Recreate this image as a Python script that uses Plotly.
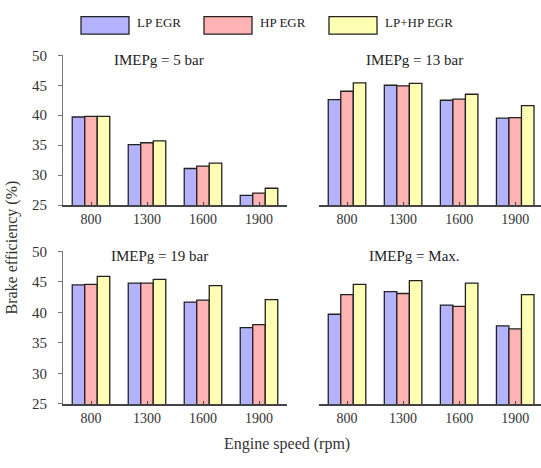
import plotly.graph_objects as go

# Engine speeds (rpm) on the category axis
speeds = ["800", "1300", "1600", "1900"]
series = ["LP EGR", "HP EGR", "LP+HP EGR"]
colors = ["#b3b3ff", "#ffb3b3", "#ffffb3"]

# Brake efficiency (%) for each load case: LP EGR, HP EGR, LP+HP EGR
imep5_lp = [39.7, 35.1, 31.1, 26.6]
imep5_hp = [39.8, 35.4, 31.5, 27.0]
imep5_lphp = [39.8, 35.7, 32.0, 27.8]

imep13_lp = [42.6, 45.0, 42.5, 39.5]
imep13_hp = [44.0, 44.9, 42.7, 39.6]
imep13_lphp = [45.4, 45.3, 43.5, 41.6]

imep19_lp = [44.5, 44.8, 41.7, 37.5]
imep19_hp = [44.6, 44.8, 42.0, 38.0]
imep19_lphp = [45.9, 45.4, 44.4, 42.1]

imepmax_lp = [39.7, 43.4, 41.2, 37.8]
imepmax_hp = [42.9, 43.1, 41.0, 37.3]
imepmax_lphp = [44.6, 45.2, 44.8, 42.9]

panel_titles = ["IMEPg = 5 bar", "IMEPg = 13 bar", "IMEPg = 19 bar", "IMEPg = Max."]
panel_data = [
    [imep5_lp, imep5_hp, imep5_lphp],
    [imep13_lp, imep13_hp, imep13_lphp],
    [imep19_lp, imep19_hp, imep19_lphp],
    [imepmax_lp, imepmax_hp, imepmax_lphp],
]

W, H = 541, 468
FONT = "Liberation Serif"

# Panel boxes in pixels: (left, right, top, bottom)
boxes = [
    (63, 287, 49, 204),
    (319, 541, 49, 204),
    (63, 287, 252, 410),
    (319, 541, 252, 410),
]

fig = go.Figure()
layout = dict(
    width=W, height=H,
    margin=dict(l=0, r=0, t=0, b=0),
    paper_bgcolor="white", plot_bgcolor="white",
    barmode="group", bargap=0.33, bargroupgap=0.0,
    showlegend=False,
    font=dict(family=FONT, size=14, color="#333"),
)

annotations = []
shapes = []

for i, (vals, title, box) in enumerate(zip(panel_data, panel_titles, boxes)):
    n = i + 1
    xa = "x" if n == 1 else f"x{n}"
    ya = "y" if n == 1 else f"y{n}"
    for s, c, v in zip(series, colors, vals):
        fig.add_trace(go.Bar(
            x=speeds, y=v, name=s, xaxis=xa, yaxis=ya,
            marker=dict(color=c, line=dict(color="#222", width=1.3)),
            base=0,
        ))
    l, r, t, b = box
    left_col = n in (1, 3)
    layout["xaxis" if n == 1 else f"xaxis{n}"] = dict(
        domain=[l / W, r / W], anchor=ya,
        range=[-0.5, 3.5] if left_col else [-0.5, 3.46],
        showline=True, linecolor="#444", linewidth=2,
        ticks="inside", ticklen=3, tickcolor="#444",
        showgrid=False, zeroline=False,
        tickfont=dict(family=FONT, size=14, color="#333"),
    )
    layout["yaxis" if n == 1 else f"yaxis{n}"] = dict(
        domain=[1 - b / H, 1 - t / H], anchor=xa,
        range=[25, 50],
        tickvals=[25, 30, 35, 40, 45, 50],
        showgrid=False, zeroline=False,
        showline=left_col, linecolor="#777", linewidth=1,
        ticks="outside" if left_col else "", ticklen=4, tickcolor="#777",
        showticklabels=left_col,
        ticklabelstandoff=8,
        tickfont=dict(family=FONT, size=15, color="#333"),
    )
    annotations.append(dict(
        text=title, xref="paper", yref="paper",
        x=((l + r) / 2 - 16) / W, y=1 - (t + 5) / H,
        xanchor="center", yanchor="middle", showarrow=False,
        font=dict(family=FONT, size=15, color="#222"),
    ))

# Axis titles
annotations.append(dict(
    text="Engine speed (rpm)", xref="paper", yref="paper",
    x=287 / W, y=1 - 451 / H, xanchor="center", yanchor="middle",
    showarrow=False, font=dict(family=FONT, size=16, color="#333"),
))
annotations.append(dict(
    text="Brake efficiency (%)", xref="paper", yref="paper",
    x=12 / W, y=1 - 248 / H, xanchor="center", yanchor="middle",
    textangle=-90, showarrow=False, font=dict(family=FONT, size=16, color="#333"),
))

# Legend drawn as wide swatches with labels
legend_x = [81, 204, 329]
for s, c, lx in zip(series, colors, legend_x):
    shapes.append(dict(
        type="rect", xref="paper", yref="paper",
        x0=lx / W, x1=(lx + 48) / W, y0=1 - 27 / H, y1=1 - 9 / H,
        fillcolor=c, line=dict(color="#222", width=1.3),
    ))
    annotations.append(dict(
        text=s, xref="paper", yref="paper",
        x=(lx + 54) / W, y=1 - 15 / H, xanchor="left", yanchor="middle",
        showarrow=False, font=dict(family=FONT, size=13, color="#222"),
    ))

layout["annotations"] = annotations
layout["shapes"] = shapes
fig.update_layout(**layout)

fig.write_html("out.html")
